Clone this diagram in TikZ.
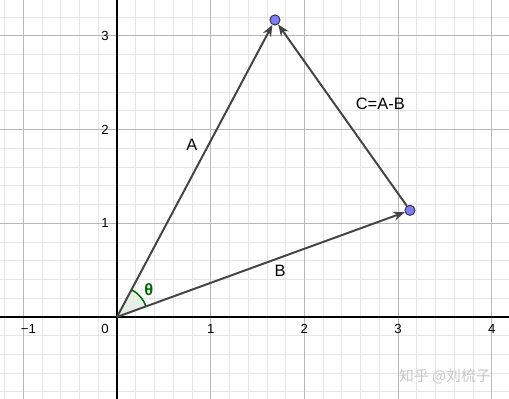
\documentclass[tikz,border=0pt]{standalone}
\usepackage{fontspec}
\setmainfont{Liberation Sans}
\newfontfamily\cjkfont{Noto Sans CJK SC}
\usetikzlibrary{arrows.meta}
\definecolor{vecgray}{HTML}{444444}
\definecolor{ptblue}{HTML}{7D7DFF}
\definecolor{angreen}{HTML}{006400}
\tikzset{
  vec/.style={draw=vecgray,line width=1.2pt,-{Stealth[length=7pt,width=5.5pt]}},
  pt/.style={circle,draw=black!85,fill=ptblue,line width=0.5pt,inner sep=0pt,minimum size=6.2pt},
  ticklab/.style={font=\fontsize{8}{9}\selectfont},
  veclab/.style={font=\fontsize{10}{12}\selectfont}
}
\begin{document}
\begin{tikzpicture}[x=2cm,y=2cm]
    \useasboundingbox (-1.249,-0.872) rectangle (4.184,3.383);
    % grid and axes
    \draw[black!10,line width=0.5pt,step=0.2] (-1.249,-0.872) grid (4.184,3.383);
    \draw[black!28,line width=0.6pt,step=1] (-1.249,-0.872) grid (4.184,3.383);
    \draw[black,line width=0.8pt] (-1.249,0)--(4.184,0);
    \draw[black,line width=0.8pt] (0,-0.872)--(0,3.383);
    \foreach \x in{1,2,3,4}
        \node[ticklab] (tx\x) at (\x,-0.128) {\x};
    \foreach \y in{1,2,3}
        \node[ticklab] (ty\y) at (-0.128,\y) {\y};
    \node[ticklab] (t0) at (-0.128,-0.128) {0};
    \node[ticklab] (tm1) at (-0.945,-0.128) {−1};
    % angle
    \fill[angreen!10] (0,0)--(20:0.33) arc(20:62:0.33)--cycle;
    \draw[angreen,line width=0.9pt] (20:0.33) arc(20:62:0.33);
    \node[font=\bfseries\fontsize{10}{12}\selectfont,text=angreen] (th) at (0.34,0.29) {θ};
    % vectors
    \coordinate (O) at (0,0);
    \node[pt] (A) at (1.686,3.17) {};
    \node[pt] (B) at (3.127,1.138) {};
    \draw[vec] (O)--(A);
    \draw[vec] (O)--(B);
    \draw[vec] (B)--(A);
    \node[veclab] (la) at (0.80,1.84) {A};
    \node[veclab] (lb) at (1.74,0.49) {B};
    \node[veclab] (lc) at (2.81,2.28) {C=A-B};
    \node[font=\cjkfont\fontsize{9}{10}\selectfont,text=black!22] (wm) at (3.50,-0.64) {知乎 @刘梳子};
\end{tikzpicture}
\end{document}
